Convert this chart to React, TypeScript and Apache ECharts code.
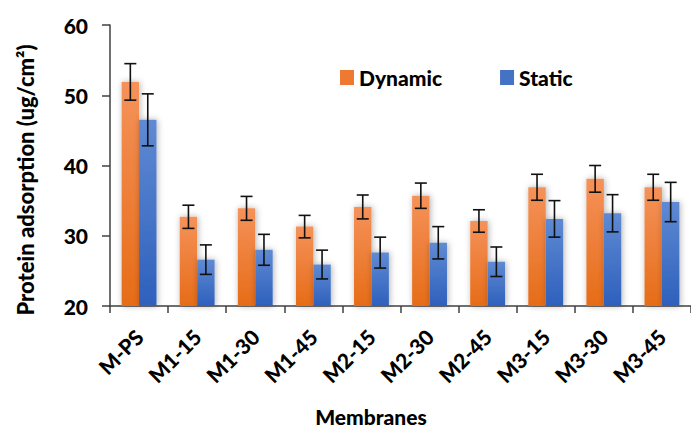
import React, { useEffect, useRef } from "react";
import * as echarts from "echarts";

const categories = ["M-PS", "M1-15", "M1-30", "M1-45", "M2-15", "M2-30", "M2-45", "M3-15", "M3-30", "M3-45"];
const dynamicValues = [51.9, 32.7, 33.9, 31.3, 34.1, 35.7, 32.1, 36.9, 38.1, 36.9];
const dynamicErrors = [2.6, 1.65, 1.7, 1.6, 1.7, 1.8, 1.6, 1.85, 1.9, 1.85];
const staticValues = [46.5, 26.6, 28.0, 25.9, 27.6, 29.0, 26.3, 32.4, 33.2, 34.8];
const staticErrors = [3.7, 2.1, 2.2, 2.05, 2.2, 2.3, 2.1, 2.6, 2.65, 2.8];
const yTicks = [20, 30, 40, 50, 60];

const FONT = "Lato";

export default function App() {
  const ref = useRef<HTMLDivElement>(null);
  useEffect(() => {
    if (!ref.current) return;
    const chart = echarts.init(ref.current, undefined, { renderer: "svg" });
    const errSeries = (vals: number[], errs: number[], side: number) => ({
      type: "custom",
      z: 10,
      data: vals.map((v, i) => [i, v, errs[i]]),
      renderItem: (params: any, api: any) => {
        const i = api.value(0);
        const v = api.value(1);
        const e = api.value(2);
        const band = api.size([1, 0])[0];
        const top = api.coord([i, v + e]);
        const bot = api.coord([i, v - e]);
        const x = top[0] + side * band * 0.15;
        const cap = 6;
        const style = { stroke: "#111", lineWidth: 1.6 };
        return {
          type: "group",
          children: [
            { type: "line", shape: { x1: x, y1: top[1], x2: x, y2: bot[1] }, style },
            { type: "line", shape: { x1: x - cap, y1: top[1], x2: x + cap, y2: top[1] }, style },
            { type: "line", shape: { x1: x - cap, y1: bot[1], x2: x + cap, y2: bot[1] }, style },
          ],
        };
      },
    });
    const orange = new echarts.graphic.LinearGradient(0, 0, 0, 1, [
      { offset: 0, color: "#F5925A" },
      { offset: 1, color: "#E66C17" },
    ]);
    const blue = new echarts.graphic.LinearGradient(0, 0, 0, 1, [
      { offset: 0, color: "#5F8AD3" },
      { offset: 1, color: "#2E60BC" },
    ]);
    chart.setOption({
      animation: false,
      grid: { left: 110, right: -8, top: 25, bottom: 122 },
      legend: {
        data: [
          { name: "Dynamic", itemStyle: { color: "#EE7A32" } },
          { name: "Static", itemStyle: { color: "#4472C4" } },
        ],
        left: 335,
        top: 62,
        icon: "rect",
        itemWidth: 14,
        itemHeight: 15,
        itemGap: 58,
        textStyle: { fontFamily: FONT, fontWeight: 900, fontSize: 21, color: "#000" },
      },
      xAxis: {
        type: "category",
        data: categories,
        axisLine: { lineStyle: { color: "#404040", width: 1.5 } },
        axisTick: { show: true, length: 7, lineStyle: { color: "#404040", width: 1.5 } },
        axisLabel: {
          rotate: 45,
          interval: 0,
          margin: 27,
          fontFamily: FONT,
          fontWeight: 900,
          fontSize: 21,
          color: "#000",
        },
      },
      yAxis: {
        type: "value",
        min: 20,
        max: 60,
        interval: 10,
        splitLine: { show: false },
        axisLine: { show: true, lineStyle: { color: "#404040", width: 1.5 } },
        axisTick: { show: true, length: 8, lineStyle: { color: "#404040", width: 1.5 } },
        axisLabel: {
          margin: 22,
          fontFamily: FONT,
          fontWeight: 900,
          fontSize: 21,
          color: "#000",
          customValues: yTicks,
        },
      },
      series: [
        {
          name: "Dynamic",
          type: "bar",
          data: dynamicValues,
          barGap: "0%",
          barCategoryGap: "40%",
          itemStyle: { color: orange, shadowBlur: 6, shadowColor: "rgba(0,0,0,0.3)", shadowOffsetX: 1 },
        },
        {
          name: "Static",
          type: "bar",
          data: staticValues,
          barGap: "0%",
          barCategoryGap: "40%",
          itemStyle: { color: blue, shadowBlur: 6, shadowColor: "rgba(0,0,0,0.3)", shadowOffsetX: 1 },
        },
        errSeries(dynamicValues, dynamicErrors, -1),
        errSeries(staticValues, staticErrors, 1),
      ],
      graphic: [
        {
          type: "text",
          x: 25,
          y: 180,
          rotation: Math.PI / 2,
          style: {
            text: "Protein adsorption (ug/cm²)",
            fontFamily: FONT,
            fontWeight: 900,
            fontSize: 22,
            fill: "#000",
            align: "center",
            verticalAlign: "middle",
          },
        },
        {
          type: "text",
          x: 371,
          y: 416,
          style: {
            text: "Membranes",
            fontFamily: FONT,
            fontWeight: 900,
            fontSize: 21,
            fill: "#000",
            align: "center",
            verticalAlign: "middle",
          },
        },
      ],
    });
    return () => chart.dispose();
  }, []);
  return (
    <div
      ref={ref}
      style={{ position: "fixed", left: 0, top: 0, width: 691, height: 428, background: "#fff" }}
    />
  );
}
